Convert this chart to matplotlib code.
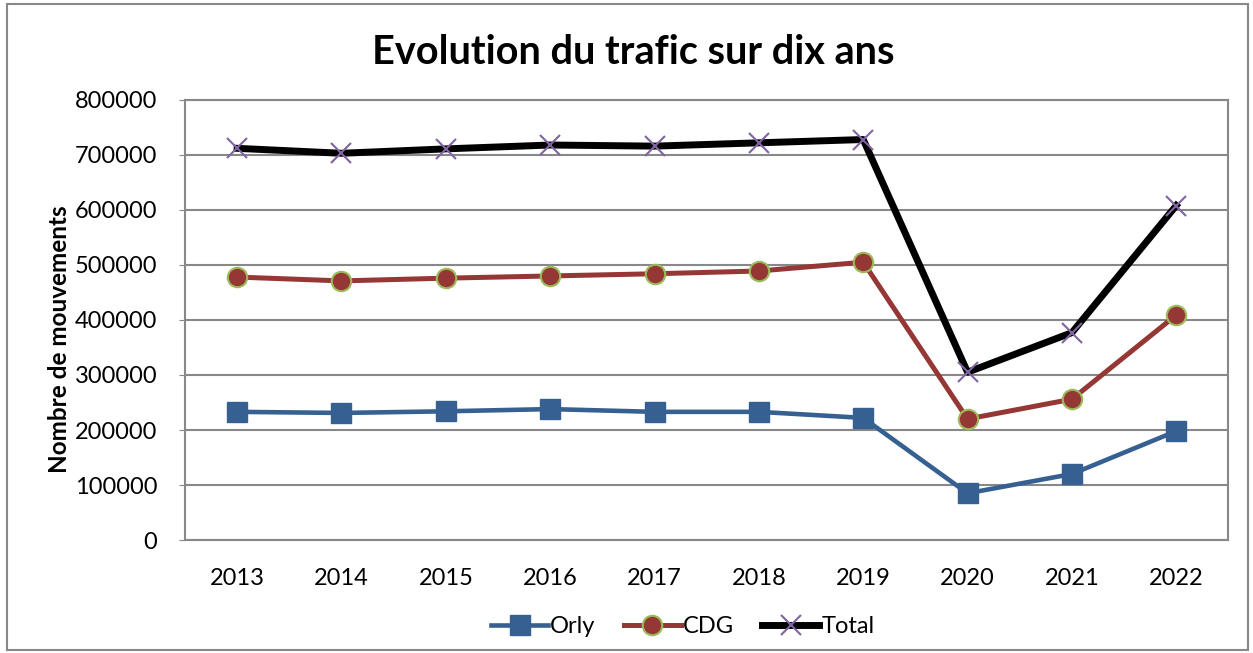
#import
import matplotlib.pyplot as plt
from matplotlib.patches import Rectangle

#-------------------------------------------------------------------------------

#data
years = ["2013", "2014", "2015", "2016", "2017", "2018", "2019", "2020", "2021", "2022"]
orly = [233000, 231000, 234000, 238000, 233000, 233000, 222000, 85000, 120000, 198000]
cdg = [478000, 471000, 476000, 480000, 484000, 489000, 505000, 220000, 256000, 409000]
total = [712000, 703000, 711000, 718000, 716000, 722000, 728000, 305000, 377000, 608000]
yticks = [0, 100000, 200000, 300000, 400000, 500000, 600000, 700000, 800000]

#-------------------------------------------------------------------------------

#graphics settings
plt.rcParams['font.family'] = ['Lato', 'DejaVu Sans']

fig = plt.figure(figsize=(12.53, 6.53), dpi=100)
ax = fig.add_axes([0.1476, 0.173, 0.8328, 0.674])

# outer chart border
fig.patches.append(Rectangle((0.0056, 0.005), 0.9905, 0.989, transform=fig.transFigure,
                             fill=False, edgecolor="#888888", linewidth=1.5))

x = list(range(len(years)))

ax.plot(x, orly, color="#376092", linewidth=3.3, marker="s", markersize=14,
        markerfacecolor="#376092", markeredgecolor="#376092", label="Orly", zorder=3)
ax.plot(x, cdg, color="#953735", linewidth=3.6, marker="o", markersize=14,
        markerfacecolor="#953735", markeredgecolor="#9BBB59", markeredgewidth=1.5,
        label="CDG", zorder=3)
ax.plot(x, total, color="black", linewidth=5, marker="x", markersize=14,
        markeredgecolor="#8064A2", markeredgewidth=1.5, label="Total", zorder=4)

ax.set_xlim(-0.5, len(years) - 0.5)
ax.set_ylim(0, 800000)
ax.set_xticks(x)
ax.set_xticklabels(years)
ax.set_yticks(yticks)
ax.set_yticklabels([str(v) for v in yticks])
ax.tick_params(axis='x', length=0, labelsize=17, pad=20)
ax.tick_params(axis='y', length=4, color="#888888", labelsize=17, pad=16)

ax.grid(axis='y', color="#888888", linewidth=1.5)
ax.set_axisbelow(True)
for s in ax.spines.values():
    s.set_color("#888888")
    s.set_linewidth(1.5)

ax.set_ylabel("Nombre de mouvements", fontsize=17.5, fontweight="bold")
ax.yaxis.set_label_coords(-0.109, 0.457)
fig.text(0.505, 0.92, "Evolution du trafic sur dix ans", ha="center", va="center",
         fontsize=28.5, fontweight="bold")

fig.legend(loc="center", bbox_to_anchor=(0.545, 0.04), ncol=3, frameon=False,
           fontsize=17, handlelength=2.4, handletextpad=0.1, columnspacing=1.2)

#-------------------------------------------------------------------------------

#display
plt.savefig('out.png', dpi=100)
